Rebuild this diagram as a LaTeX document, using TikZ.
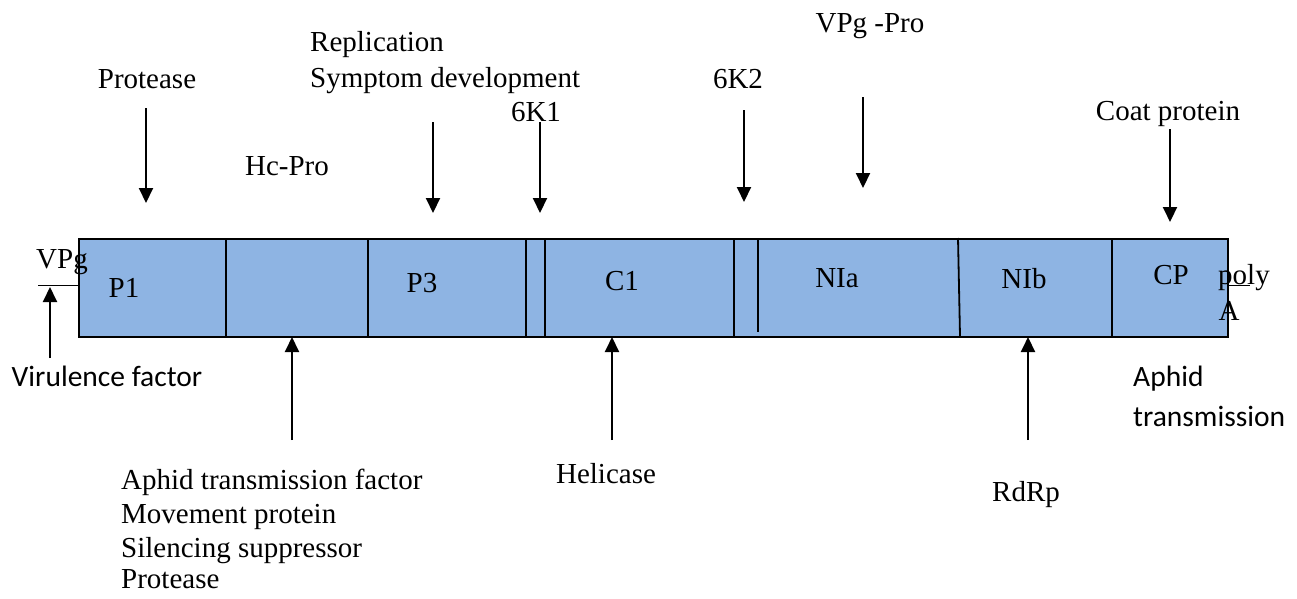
\documentclass[tikz,border=0pt]{standalone}
\usepackage{fontspec}
\setmainfont{Liberation Serif}
\newfontfamily\calfont{Carlito}
\usetikzlibrary{arrows.meta}
\definecolor{segblue}{RGB}{142,180,227}
\begin{document}
\begin{tikzpicture}[x=1pt,y=-1pt,
  lbl/.style={inner sep=0pt, anchor=base, font=\fontsize{29}{33}\selectfont},
  lblw/.style={lbl, anchor=base west},
  slbl/.style={inner sep=0pt, anchor=base west, font=\calfont\fontsize{29.5}{40}\selectfont},
  arr/.style={line width=2pt, -{Triangle[length=15pt,width=14pt]}},
  divline/.style={line width=1.8pt},
]
\useasboundingbox (0,0) rectangle (1297,598);
% genome bar
\node[draw, line width=1.8pt, fill=segblue, minimum width=1149pt, minimum height=98pt,
      inner sep=0pt, anchor=north west] (genome) at (78,238) {};
% dividers
\draw[divline] (226,238) -- (226,336);
\draw[divline] (368,238) -- (368,336);
\draw[divline] (526,238) -- (526,336);
\draw[divline] (545,238) -- (545,336);
\draw[divline] (734,238) -- (734,336);
\draw[divline] (758,238) -- (758,332);
\draw[divline] (958,238) -- (960,336);
\draw[divline] (1112,238) -- (1112,336);
% 5' and 3' tails
\draw[line width=1.6pt] (38,285.5) -- (78,285.5);
\draw[line width=1.6pt] (1227,285.5) -- (1250,285.5);
% segment labels
\node[lbl] (vpg) at (62,268) {VPg};
\node[lbl] (p1) at (124,297) {P1};
\node[lbl] (p3) at (422,292) {P3};
\node[lbl] (c1) at (622,290) {C1};
\node[lbl] (nia) at (837,287) {NIa};
\node[lbl] (nib) at (1024,288) {NIb};
\node[lbl] (cp) at (1171,284) {CP};
\node[lbl] (poly) at (1244,284) {poly};
\node[lbl] (polyA) at (1229,320) {A};
% top labels
\node[lbl] (protease) at (147,88) {Protease};
\node[lblw] (repl) at (310,51) {Replication};
\node[lblw] (sympt) at (310,87) {Symptom development};
\node[lbl] (k1) at (536,121) {6K1};
\node[lbl] (hcpro) at (287,175) {Hc-Pro};
\node[lbl] (k2) at (738,88) {6K2};
\node[lbl] (vpgpro) at (870,32) {VPg -Pro};
\node[lbl] (coat) at (1168,120) {Coat protein};
% bottom labels
\node[slbl, anchor=base] (vir) at (107,386) {Virulence factor};
\node[slbl] (aphid1) at (1133,386) {Aphid};
\node[slbl] (aphid2) at (1133,426) {transmission};
\node[lblw] (atf) at (121,489) {Aphid transmission factor};
\node[lblw] (mov) at (121,523) {Movement protein};
\node[lblw] (sil) at (121,557) {Silencing suppressor};
\node[lblw] (prot2) at (121,588) {Protease};
\node[lbl] (heli) at (606,483) {Helicase};
\node[lbl] (rdrp) at (1026,501) {RdRp};
% arrow coordinates
\coordinate (aP1s) at (146,108);  \coordinate (aP1e) at (146,203);
\coordinate (aP3s) at (433,122);  \coordinate (aP3e) at (433,213);
\coordinate (aK1s) at (540,122);  \coordinate (aK1e) at (540,213);
\coordinate (aK2s) at (744,110);  \coordinate (aK2e) at (744,202);
\coordinate (aNIas) at (863,97);  \coordinate (aNIae) at (863,188);
\coordinate (aCPs) at (1170,129); \coordinate (aCPe) at (1170,222);
\coordinate (aVs) at (50,358);    \coordinate (aVe) at (50,287);
\coordinate (aHs) at (292,440);   \coordinate (aHe) at (292,337);
\coordinate (aCs) at (612,440);   \coordinate (aCe) at (612,337);
\coordinate (aRs) at (1028,440);  \coordinate (aRe) at (1028,337);
% arrows
\draw[arr] (aP1s) -- (aP1e);
\draw[arr] (aP3s) -- (aP3e);
\draw[arr] (aK1s) -- (aK1e);
\draw[arr] (aK2s) -- (aK2e);
\draw[arr] (aNIas) -- (aNIae);
\draw[arr] (aCPs) -- (aCPe);
\draw[arr] (aVs) -- (aVe);
\draw[arr] (aHs) -- (aHe);
\draw[arr] (aCs) -- (aCe);
\draw[arr] (aRs) -- (aRe);
\end{tikzpicture}
\end{document}
